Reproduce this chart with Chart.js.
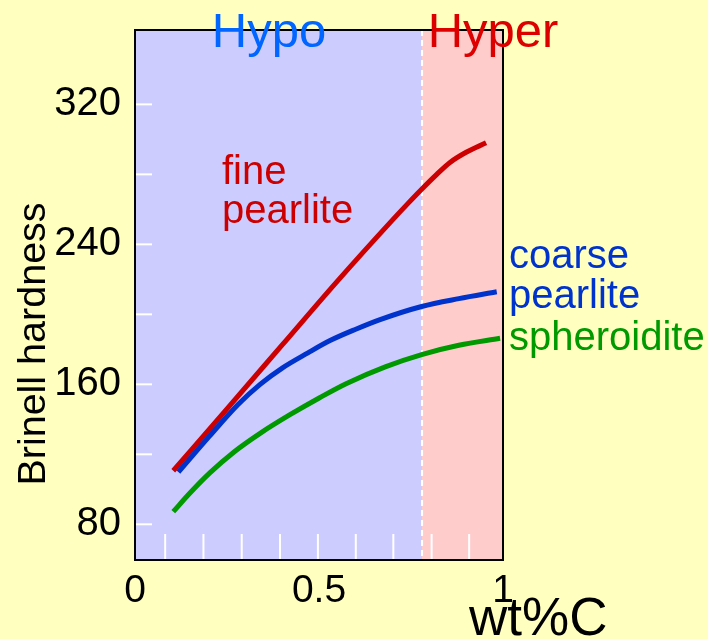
<!DOCTYPE html>
<html>
<head>
<meta charset="utf-8">
<script src="https://cdn.jsdelivr.net/npm/chart.js@4/dist/chart.umd.min.js"></script>
<style>
  html, body { margin: 0; padding: 0; background: #FFFFC0; }
  canvas { display: block; }
</style>
</head>
<body>
<canvas id="c" width="708" height="639"></canvas>
<script>
// ---- data ----
const fineX = [0.104, 0.25, 0.40, 0.55, 0.70, 0.74, 0.779, 0.82, 0.856, 0.90, 0.954];
const fineY = [110.6, 146.0, 182.5, 219.0, 254.0, 263.0, 271.5, 280.0, 286.8, 292.6, 298.0];

const coarseX = [0.118, 0.20, 0.28, 0.34, 0.40, 0.47, 0.53, 0.60, 0.666, 0.779, 0.88, 0.983];
const coarseY = [109.8, 129.8, 148.5, 160.0, 169.3, 178.0, 185.0, 191.5, 197.0, 204.5, 209.0, 212.9];

const sphX = [0.104, 0.15, 0.204, 0.27, 0.34, 0.42, 0.503, 0.575, 0.68, 0.779, 0.88, 0.992];
const sphY = [87.2, 98.0, 109.5, 121.5, 132.0, 142.5, 152.5, 160.5, 170.0, 177.0, 182.3, 186.3];

const xLabelValues = [0, 0.5, 1];
const xTickMarks = [0.082, 0.186, 0.29, 0.394, 0.497, 0.6, 0.702, 0.806, 0.908];
const yTickValues = [80, 120, 160, 200, 240, 280, 320];
const yLabelValues = [80, 160, 240, 320];
const eutectoid = 0.78;
const regionNames = ["Hypo", "Hyper"];
const seriesNames = ["fine pearlite", "coarse pearlite", "spheroidite"];

const FONT = '"Liberation Sans", Arial, sans-serif';
const toPts = (xs, ys) => xs.map((x, i) => ({ x: x, y: ys[i] }));

const decor = {
  id: 'decor',
  beforeDraw(chart) {
    const ctx = chart.ctx;
    ctx.save();
    ctx.fillStyle = '#FFFFC0';
    ctx.fillRect(0, 0, chart.width, chart.height);
    ctx.restore();
  },
  beforeDatasetsDraw(chart) {
    const ctx = chart.ctx, a = chart.chartArea;
    const xs = chart.scales.x, ys = chart.scales.y;
    const xe = xs.getPixelForValue(eutectoid);
    ctx.save();
    ctx.fillStyle = '#CCCCFF';
    ctx.fillRect(a.left, a.top, xe - a.left, a.bottom - a.top);
    ctx.fillStyle = '#FFCCCC';
    ctx.fillRect(xe, a.top, a.right - xe, a.bottom - a.top);
    // dashed eutectoid line
    ctx.strokeStyle = '#FFFFFF';
    ctx.lineWidth = 2;
    ctx.setLineDash([6, 4]);
    ctx.beginPath();
    ctx.moveTo(xe, a.top);
    ctx.lineTo(xe, a.bottom);
    ctx.stroke();
    ctx.setLineDash([]);
    // white inner ticks
    ctx.lineWidth = 2;
    yTickValues.forEach(v => {
      const y = ys.getPixelForValue(v);
      ctx.beginPath();
      ctx.moveTo(a.left, y);
      ctx.lineTo(a.left + 17, y);
      ctx.stroke();
    });
    xTickMarks.forEach(v => {
      const x = xs.getPixelForValue(v);
      ctx.beginPath();
      ctx.moveTo(x, a.bottom);
      ctx.lineTo(x, a.bottom - 26);
      ctx.stroke();
    });
    ctx.restore();
  },
  afterDatasetsDraw(chart) {
    const ctx = chart.ctx, a = chart.chartArea;
    ctx.save();
    // frame
    ctx.strokeStyle = '#000000';
    ctx.lineWidth = 2;
    ctx.strokeRect(a.left, a.top, a.right - a.left, a.bottom - a.top);
    // region titles
    ctx.textBaseline = 'alphabetic';
    ctx.textAlign = 'center';
    ctx.font = '49px ' + FONT;
    ctx.fillStyle = '#0066FF';
    ctx.fillText(regionNames[0], 269, 47);
    ctx.fillStyle = '#DD0000';
    ctx.fillText(regionNames[1], 493, 47);
    // curve labels
    ctx.textAlign = 'left';
    ctx.font = '40px ' + FONT;
    ctx.fillStyle = '#CC0000';
    ctx.fillText('fine', 222, 184);
    ctx.fillText('pearlite', 222, 223);
    ctx.fillStyle = '#0033CC';
    ctx.fillText('coarse', 509, 268);
    ctx.fillText('pearlite', 509, 308);
    ctx.fillStyle = '#009900';
    ctx.fillText('spheroidite', 509, 350);
    // axis titles
    ctx.fillStyle = '#000000';
    ctx.font = '53px ' + FONT;
    ctx.fillText('wt%C', 469, 635);
    ctx.font = '39.5px ' + FONT;
    ctx.translate(45, 344);
    ctx.rotate(-Math.PI / 2);
    ctx.textAlign = 'center';
    ctx.fillText('Brinell hardness', 0, 0);
    ctx.restore();
  }
};

const lineDs = (label, xs, ys, color) => ({
  label: label,
  data: toPts(xs, ys),
  borderColor: color,
  borderWidth: 5,
  pointRadius: 0,
  fill: false,
  cubicInterpolationMode: 'monotone',
  borderCapStyle: 'butt'
});

new Chart(document.getElementById('c'), {
  type: 'line',
  data: {
    datasets: [
      lineDs(seriesNames[2], sphX, sphY, '#009900'),
      lineDs(seriesNames[1], coarseX, coarseY, '#0033CC'),
      lineDs(seriesNames[0], fineX, fineY, '#CC0000')
    ]
  },
  options: {
    responsive: false,
    animation: false,
    devicePixelRatio: 1,
    layout: { padding: { left: 0, right: 205, top: 30, bottom: 0 } },
    plugins: { legend: { display: false }, tooltip: { enabled: false } },
    scales: {
      x: {
        type: 'linear',
        min: 0, max: 1,
        afterBuildTicks: s => { s.ticks = xLabelValues.map(v => ({ value: v })); },
        afterFit: s => { s.height = 79; s.paddingLeft = 0; s.paddingRight = 0; s.paddingTop = 0; s.paddingBottom = 0; },
        grid: { display: false, drawTicks: false },
        border: { display: false },
        ticks: {
          autoSkip: false, maxRotation: 0,
          color: '#000', padding: 8,
          font: { size: 39, family: FONT },
          callback: v => String(v)
        }
      },
      y: {
        type: 'linear',
        min: 59.6, max: 362.5,
        afterBuildTicks: s => { s.ticks = yTickValues.map(v => ({ value: v })); },
        afterFit: s => { s.width = 135; s.paddingTop = 0; s.paddingBottom = 0; s.paddingLeft = 0; s.paddingRight = 0; },
        grid: { display: false, drawTicks: false },
        border: { display: false },
        ticks: {
          autoSkip: false,
          color: '#000', padding: 14,
          font: { size: 40, family: FONT },
          callback: v => yLabelValues.includes(v) ? String(v) : ''
        }
      }
    }
  },
  plugins: [decor]
});
</script>
</body>
</html>
